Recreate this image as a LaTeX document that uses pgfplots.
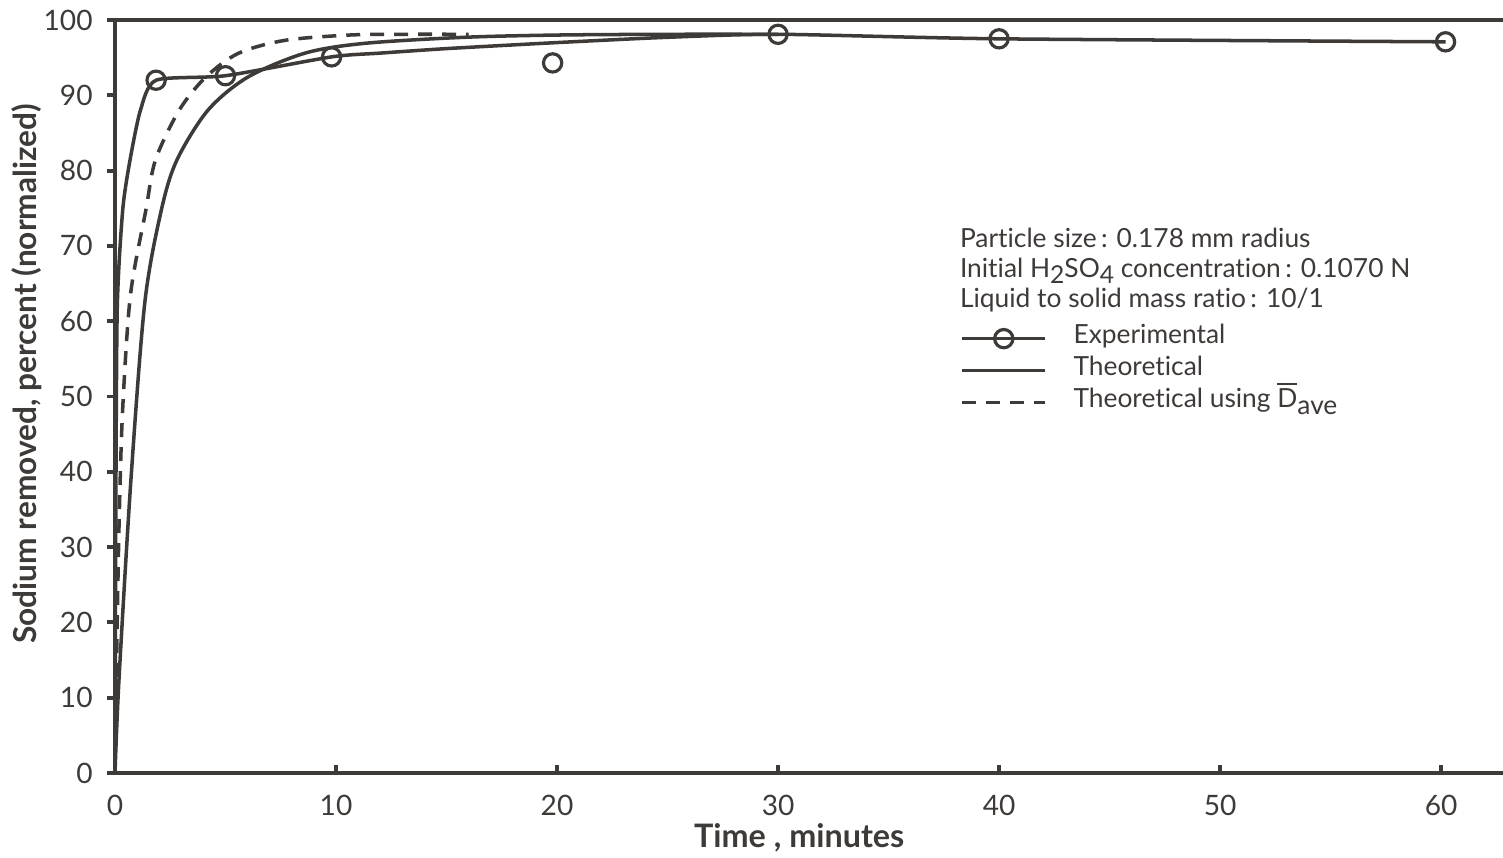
\documentclass[border=0pt]{standalone}
\usepackage{pgfplots}
\pgfplotsset{compat=1.18}
\usepackage{fontspec}
\setmainfont{Lato}[Ligatures={NoCommon}]
\definecolor{ink}{RGB}{62,58,56}
\begin{document}
\begin{tikzpicture}
\begin{axis}[
  at={(0,0)}, anchor=south west,
  scale only axis, width=13.88cm, height=7.53cm,
  xmin=0, xmax=62.8, ymin=0, ymax=100,
  axis x line*=box, axis y line*=left,
  axis line style={ink, line width=1.2pt},
  xtick={0,10,20,30,40,50,60}, ytick={0,10,...,100},
  xtick pos=bottom, ytick pos=left,
  tick align=outside,
  major tick length=0.08cm,
  xtick style={ink, line width=1.1pt, yshift=0.08cm},
  ytick style={ink, line width=1.1pt},
  /pgf/number format/assume math mode=true,
  ticklabel style={font=\fontsize{8}{9}\selectfont, text=ink},
  xticklabel style={yshift=-0.02cm},
  yticklabel style={xshift=-0.02cm},
  xlabel={\bfseries Time , minutes},
  ylabel={\bfseries Sodium removed, percent (normalized)},
  xlabel style={at={(axis description cs:0.493,0)}, anchor=center, yshift=-0.65cm, font=\fontsize{9.2}{11}\selectfont, text=ink},
  ylabel style={at={(axis description cs:-0.0635,0.53)}, anchor=center, font=\fontsize{9}{11}\selectfont, text=ink},
  legend image code/.code={\draw[mark repeat=2,mark phase=2,#1,mark indices={2}] plot coordinates {(0cm,0cm) (0.42cm,0cm) (0.83cm,0cm)};},
  legend style={at={(axis cs:38.2,59.9)}, anchor=north west, draw=none, fill=none,
    font=\fontsize{7.5}{8.5}\selectfont, text=ink, row sep=0pt, inner sep=0pt,
    nodes={text height=0.2cm, text depth=0.1cm, inner ysep=0.01cm}},
  legend cell align=left,
]
% Experimental (connected line)
\addplot[ink, line width=1pt, smooth, tension=0.4, mark=o, mark size=2.6pt,
  mark options={solid, fill=white, line width=0.9pt},
  mark indices={7,8,9,14,15,16}]
  coordinates {(0,0) (0.03,30) (0.1,61.5) (0.35,74.8) (0.68,81.4) (1.15,88) (1.86,92.0)
  (5.0,92.6) (9.8,95.1) (12,95.6) (15,96.2) (20,97.0) (25,97.7) (30,98.1) (40,97.5) (60.2,97.1)};
\addlegendentry{\hspace{0.2cm}Experimental}
% Theoretical
\addplot[ink, line width=1pt, smooth, tension=0.5]
  coordinates {(0,0) (0.18,12.4) (0.72,38.9) (1.35,62.5) (2.1,74.8) (2.8,81.4)
  (4.2,88) (6.0,92.4) (8.6,95.6) (11.3,96.9) (15.8,97.7) (20,98.0) (25,98.1) (30,98.1)};
\addlegendentry{\hspace{0.2cm}Theoretical}
% Theoretical using D_ave
\addplot[ink, line width=1pt, smooth, tension=0.5, dash pattern=on 0.14cm off 0.1cm]
  coordinates {(0,0) (0.1,20) (0.2,35) (0.35,48.5) (0.7,63.5) (1.4,74.8)
  (1.83,81.4) (2.9,88) (4.1,92.4) (5.6,95.6) (7.7,97.3) (10.6,98.0) (13,98.1) (16,98.1)};
\addlegendentry{\hspace{0.2cm}Theoretical using $\overline{\hbox{D}}$\raisebox{-0.55ex}{ave}}
% isolated experimental point
\addplot[only marks, ink, mark=o, mark size=2.6pt, mark options={fill=white, line width=0.9pt}, forget plot]
  coordinates {(19.8,94.3)};
\node[anchor=north west, align=left, inner sep=0pt, text=ink, font=\fontsize{7.5}{8.5}\selectfont]
  at (axis cs:38.2,72.4)
  {Particle size\,: 0.178 mm radius\\
   Initial H\raisebox{-0.45ex}{\fontsize{7}{8}\selectfont 2}SO\raisebox{-0.45ex}{\fontsize{7}{8}\selectfont 4} concentration\,: 0.1070 N\\
   Liquid to solid mass ratio\,: 10/1};
\end{axis}
\pgfresetboundingbox
\path[use as bounding box] (-1.15cm,-0.85cm) rectangle (13.88cm,7.73cm);
\end{tikzpicture}
\end{document}
